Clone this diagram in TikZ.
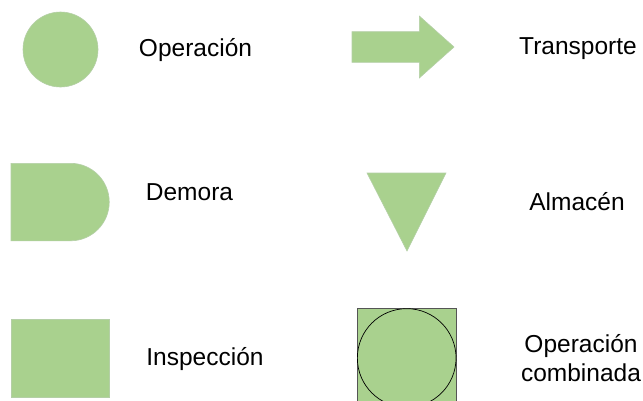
\documentclass[tikz,border=0pt]{standalone}
\usepackage{fontspec}
\setmainfont{Liberation Sans}
\begin{document}
\begin{tikzpicture}[x=1pt,y=-1pt,
  shapefill/.style={fill=symgreen,draw=symedge,line width=0.6pt},
  lbl/.style={font=\fontsize{24.5}{28.7}\selectfont,inner sep=0pt,align=center,text=black,anchor=base}]
\definecolor{symgreen}{HTML}{A9D18E}
\definecolor{symedge}{HTML}{B4CFA6}
\definecolor{sqedge}{HTML}{555555}
\useasboundingbox (0,0) rectangle (643,400);
\fill[white] (0,0) rectangle (643,400);
\node[shapefill,circle,minimum size=75pt,inner sep=0pt] (op) at (60.5,49.5) {};
\node[lbl] (opl) at (195.5,56.3) {Operación};
\path[shapefill] (352,31.7) -- (419.3,31.7) -- (419.3,16) -- (454,47) -- (419.3,78) -- (419.3,62.3) -- (352,62.3) -- cycle;
\node[lbl] (trl) at (578,54) {Transporte};
\path[shapefill] (11,163.3) -- (70.5,163.3) arc (-90:90:38.75) -- (11,240.8) -- cycle;
\node[lbl] (del) at (189.5,200) {Demora};
\path[shapefill] (367,173) -- (446,173) -- (407,251) -- cycle;
\node[lbl] (all) at (577,210.5) {Almacén};
\node[shapefill,rectangle,minimum width=98pt,minimum height=78pt,inner sep=0pt] (in) at (60.5,358) {};
\node[lbl] (inl) at (205,365) {Inspección};
\node[fill=symgreen,draw=sqedge,line width=0.7pt,rectangle,minimum width=98.7pt,minimum height=98.7pt,inner sep=0pt] (cb) at (406.7,358) {};
\node[fill=symgreen,draw=black,line width=0.7pt,circle,minimum size=98.7pt,inner sep=0pt] (cc) at (406.7,358) {};
\node[lbl,anchor=center] (cbl) at (581,358) {Operación\\combinada};
\end{tikzpicture}
\end{document}
